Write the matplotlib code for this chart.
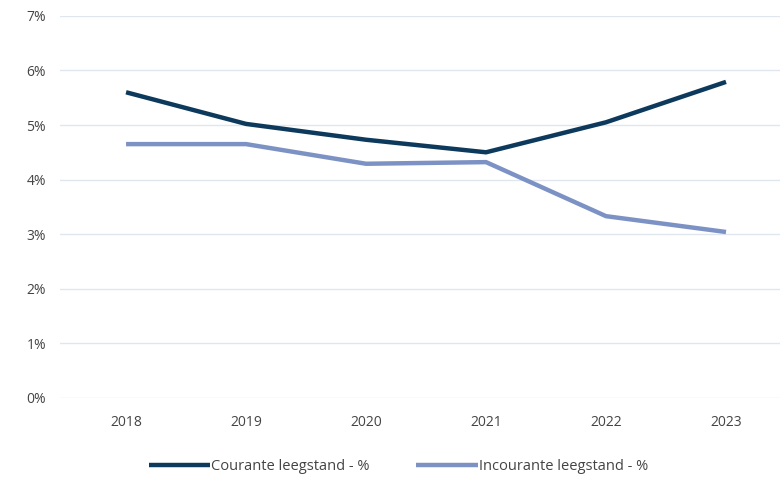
import matplotlib.pyplot as plt
from matplotlib.ticker import PercentFormatter

jaren = ['2018', '2019', '2020', '2021', '2022', '2023']
courante = [5.60, 5.02, 4.73, 4.50, 5.05, 5.79]
incourante = [4.65, 4.65, 4.29, 4.32, 3.33, 3.04]

plt.rcParams['font.family'] = ['Open Sans', 'DejaVu Sans']

fig = plt.figure(figsize=(7.8, 4.8), dpi=100)
ax = fig.add_axes([0.077, 0.171, 0.923, 0.796])

x = range(len(jaren))
ax.plot(x, courante, color='#0d3a5c', lw=3.2, solid_capstyle='butt',
        label='Courante leegstand - %')
ax.plot(x, incourante, color='#7d92c4', lw=3.2, solid_capstyle='butt',
        label='Incourante leegstand - %')

ax.set_ylim(0, 7)
ax.set_xlim(-0.55, 5.45)
ax.set_yticks(range(0, 8))
ax.yaxis.set_major_formatter(PercentFormatter(decimals=0))
ax.set_xticks(list(x))
ax.set_xticklabels(jaren)
ax.grid(axis='y', color='#dfe6ee', lw=1)
ax.set_axisbelow(True)
for s in ax.spines.values():
    s.set_visible(False)
ax.tick_params(length=0, labelsize=10, colors='#444444')
ax.tick_params(axis='x', pad=12)
ax.tick_params(axis='y', pad=10)

ax.legend(loc='upper center', bbox_to_anchor=(0.47, -0.125), ncol=2,
          frameon=False, fontsize=10.5, handlelength=4.2, handletextpad=0.1,
          columnspacing=3.2, labelcolor='#444444')

fig.savefig('out.png', dpi=100)
